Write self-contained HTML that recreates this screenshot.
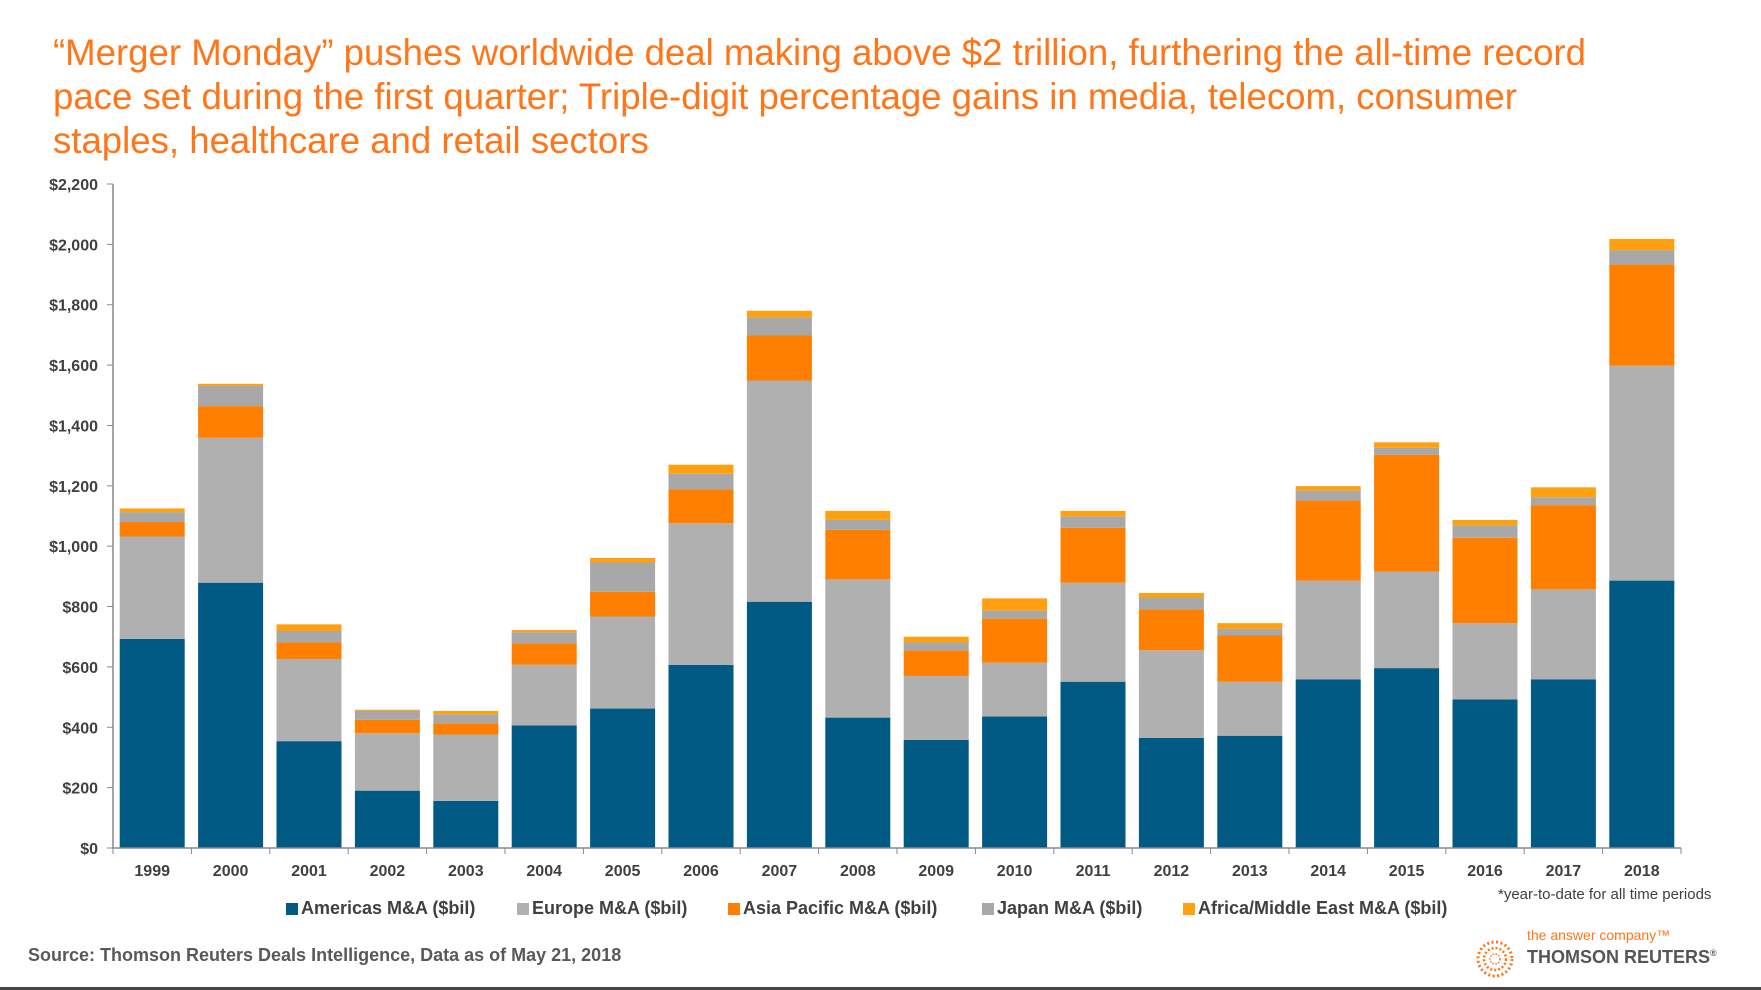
<!DOCTYPE html>
<html><head><meta charset="utf-8"><style>
body{margin:0;width:1761px;height:990px;background:#fff;overflow:hidden;font-family:"Liberation Sans",sans-serif;position:relative}
#title{position:absolute;left:53px;top:31px;width:1580px;color:#ff7518;font-size:36.6px;line-height:44px}
.leg{position:absolute;top:898px;font-size:18px;font-weight:bold;color:#404040;white-space:nowrap}
.leg span{display:inline-block;width:12px;height:12px;margin-right:3px;vertical-align:-1px}
</style></head><body>
<div id="title">“Merger Monday” pushes worldwide deal making above $2 trillion, furthering the all-time record<br>pace set during the first quarter; Triple-digit percentage gains in media, telecom, consumer<br>staples, healthcare and retail sectors</div>
<svg id="chart" width="1761" height="990" style="position:absolute;left:0;top:0"></svg>
<div class="leg" style="left:286px"><span style="background:#005a84"></span>Americas M&amp;A ($bil)</div>
<div class="leg" style="left:517px"><span style="background:#b0b0b0"></span>Europe M&amp;A ($bil)</div>
<div class="leg" style="left:728px"><span style="background:#ff7f00"></span>Asia Pacific M&amp;A ($bil)</div>
<div class="leg" style="left:982px"><span style="background:#a8a8a8"></span>Japan M&amp;A ($bil)</div>
<div class="leg" style="left:1183px"><span style="background:#ffa010"></span>Africa/Middle East M&amp;A ($bil)</div>
<div style="position:absolute;left:1498px;top:886px;font-size:15px;color:#404040">*year-to-date for all time periods</div>
<div style="position:absolute;left:28px;top:945px;font-size:18px;font-weight:bold;color:#595959">Source: Thomson Reuters Deals Intelligence, Data as of May 21, 2018</div>
<div style="position:absolute;left:1527px;top:927px;font-size:14px;color:#ff7518">the answer company™</div>
<div style="position:absolute;left:1527px;top:947px;font-size:18px;font-weight:bold;color:#555">THOMSON REUTERS<sup style="font-size:9px">®</sup></div>
<svg style="position:absolute;left:1474px;top:938px" width="42" height="42">
<circle cx="21" cy="21" r="17" fill="none" stroke="#ff7518" stroke-width="3" stroke-dasharray="2 2.5"/>
<circle cx="21" cy="21" r="11" fill="none" stroke="#ff7518" stroke-width="2.5" stroke-dasharray="2 2"/>
<circle cx="21" cy="21" r="5" fill="none" stroke="#ff7518" stroke-width="1.5" stroke-dasharray="1.5 1.5"/></svg>
<div style="position:absolute;left:0;top:987px;width:1761px;height:3px;background:#444"></div>
<script>
const years=["1999","2000","2001","2002","2003","2004","2005","2006","2007","2008","2009","2010","2011","2012","2013","2014","2015","2016","2017","2018"];
const americas=[693,879,354,190,156,406,462,607,816,432,358,436,551,365,372,559,596,492,559,886];
const europe=[339,480,272,190,220,201,305,469,733,458,212,178,328,290,179,327,320,253,298,712];
const asiaPacific=[48,105,55,45,37,71,82,112,149,164,85,146,182,135,153,265,387,283,279,335];
const japan=[33,67,38,29,30,37,97,52,60,33,26,26,38,40,22,33,23,41,26,48];
const africaME=[12,7,22,4,11,7,15,30,22,30,19,41,18,15,19,15,18,18,33,37];
const yTicks=[0,200,400,600,800,1000,1200,1400,1600,1800,2000,2200];
const series=[americas,europe,asiaPacific,japan,africaME];
const colors=["#005a84","#b0b0b0","#ff7f00","#a8a8a8","#ffa010"];
const names=["americas","europe","asia-pacific","japan","africa-middle-east"];
const svg=document.getElementById('chart');const NS="http://www.w3.org/2000/svg";
const y0=848,y1=184,vmax=2200,xL=113,xR=1681,step=(xR-xL)/years.length,bw=65;
const Y=v=>y0-(v/vmax)*(y0-y1);
const X=i=>xL+i*step+(step-bw)/2;
function mk(t,a){const e=document.createElementNS(NS,t);for(const k in a)e.setAttribute(k,a[k]);svg.appendChild(e);return e;}
years.forEach((yr,i)=>{let c=0;series.forEach((s,j)=>{const r=mk('rect',{x:X(i),y:Y(c+s[i]),width:bw,height:Y(c)-Y(c+s[i]),fill:colors[j]});

c+=s[i];});
const t=mk('text',{x:X(i)+bw/2,y:876,'text-anchor':'middle','font-size':16,'font-weight':'bold',fill:'#404040'});t.textContent=yr;


mk('line',{x1:xL+(i+1)*step,x2:xL+(i+1)*step,y1:y0,y2:y0+6,stroke:'#888'});
});
yTicks.forEach(v=>{mk('line',{x1:xL-6,x2:xL,y1:Y(v),y2:Y(v),stroke:'#888'});
const t=mk('text',{x:98,y:Y(v)+6,'text-anchor':'end','font-size':16,'font-weight':'bold',fill:'#404040'});t.textContent='$'+v.toLocaleString('en-US');

});
mk('line',{x1:xL,x2:xL,y1:y1,y2:y0,stroke:'#888','stroke-width':1.5});
mk('line',{x1:xL,x2:xR,y1:y0,y2:y0,stroke:'#888','stroke-width':1.5});
mk('line',{x1:xL,x2:xL,y1:y0,y2:y0+6,stroke:'#888'});
</script>
</body></html>
